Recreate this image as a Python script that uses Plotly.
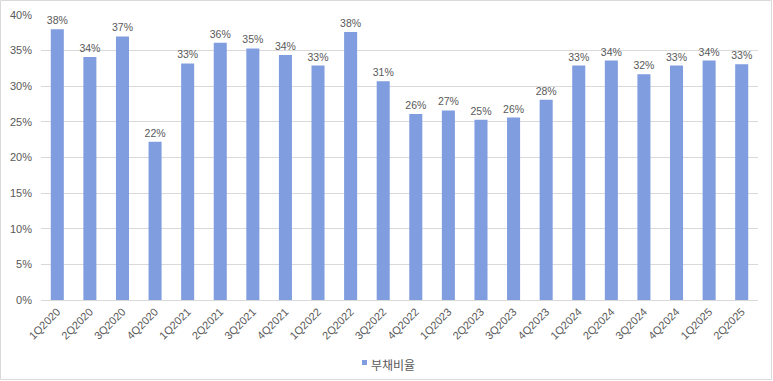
import plotly.graph_objects as go

categories = ["1Q2020", "2Q2020", "3Q2020", "4Q2020", "1Q2021", "2Q2021", "3Q2021", "4Q2021",
              "1Q2022", "2Q2022", "3Q2022", "4Q2022", "1Q2023", "2Q2023", "3Q2023", "4Q2023",
              "1Q2024", "2Q2024", "3Q2024", "4Q2024", "1Q2025", "2Q2025"]
debt_ratio = [38.0, 34.1, 37.0, 22.2, 33.2, 36.1, 35.3, 34.4,
              32.9, 37.6, 30.7, 26.1, 26.6, 25.3, 25.6, 28.1,
              32.9, 33.6, 31.7, 32.9, 33.6, 33.1]
series_name = "부채비율"
y_ticks = [0, 5, 10, 15, 20, 25, 30, 35, 40]

W, H = 773, 381
ml, mr, mt, mb = 41, 15, 15, 81
pw, ph = W - ml - mr, H - mt - mb
BAR_COLOR = "#809ddf"
TEXT_COLOR = "#595959"


def px_x(p):
    return (p - ml) / pw


def px_y(p):
    return (H - mb - p) / ph


fig = go.Figure()
fig.add_trace(go.Bar(
    x=categories, y=debt_ratio, name=series_name,
    marker=dict(color=BAR_COLOR, line=dict(width=0)),
    texttemplate="%{y:.0f}%", textposition="outside",
    textfont=dict(size=10.5, color=TEXT_COLOR),
    constraintext="none",
    cliponaxis=False,
    showlegend=False,
))

fig.update_layout(
    width=W, height=H,
    margin=dict(l=ml, r=mr, t=mt, b=mb, autoexpand=False),
    paper_bgcolor="white", plot_bgcolor="white",
    font=dict(family="Liberation Sans, Arial, Noto Sans CJK KR", color=TEXT_COLOR, size=11),
    bargap=0.6,
    showlegend=False,
    xaxis=dict(tickangle=-45, showgrid=False, showline=True, linecolor="#d9d9d9",
               linewidth=1, ticks="", automargin=False,
               tickfont=dict(size=11, color=TEXT_COLOR)),
    yaxis=dict(range=[0, 40], tickvals=y_ticks, ticktext=[f"{v}%" for v in y_ticks],
               showgrid=True, gridcolor="#d9d9d9", gridwidth=1, zeroline=False,
               showline=False, ticks="", automargin=False, ticklabelstandoff=8,
               tickfont=dict(size=11, color=TEXT_COLOR)),
    shapes=[
        dict(type="rect", xref="paper", yref="paper",
             x0=px_x(0.5), x1=px_x(W - 1.5), y0=px_y(H - 1.5), y1=px_y(0.5),
             line=dict(color="#d9d9d9", width=1), fillcolor="rgba(0,0,0,0)", layer="below"),
        dict(type="rect", xref="paper", yref="paper",
             x0=px_x(362), x1=px_x(367), y0=px_y(365), y1=px_y(360),
             line=dict(width=0), fillcolor=BAR_COLOR),
    ],
    annotations=[
        dict(text=series_name, xref="paper", yref="paper", x=px_x(369), y=px_y(364.5),
             xanchor="left", yanchor="middle", showarrow=False,
             font=dict(size=12, color=TEXT_COLOR, family="Noto Sans CJK KR")),
    ],
)

fig.write_html("out.html", config={"displayModeBar": False},
               post_script="document.body.style.margin='0px';document.body.style.overflow='hidden';")
